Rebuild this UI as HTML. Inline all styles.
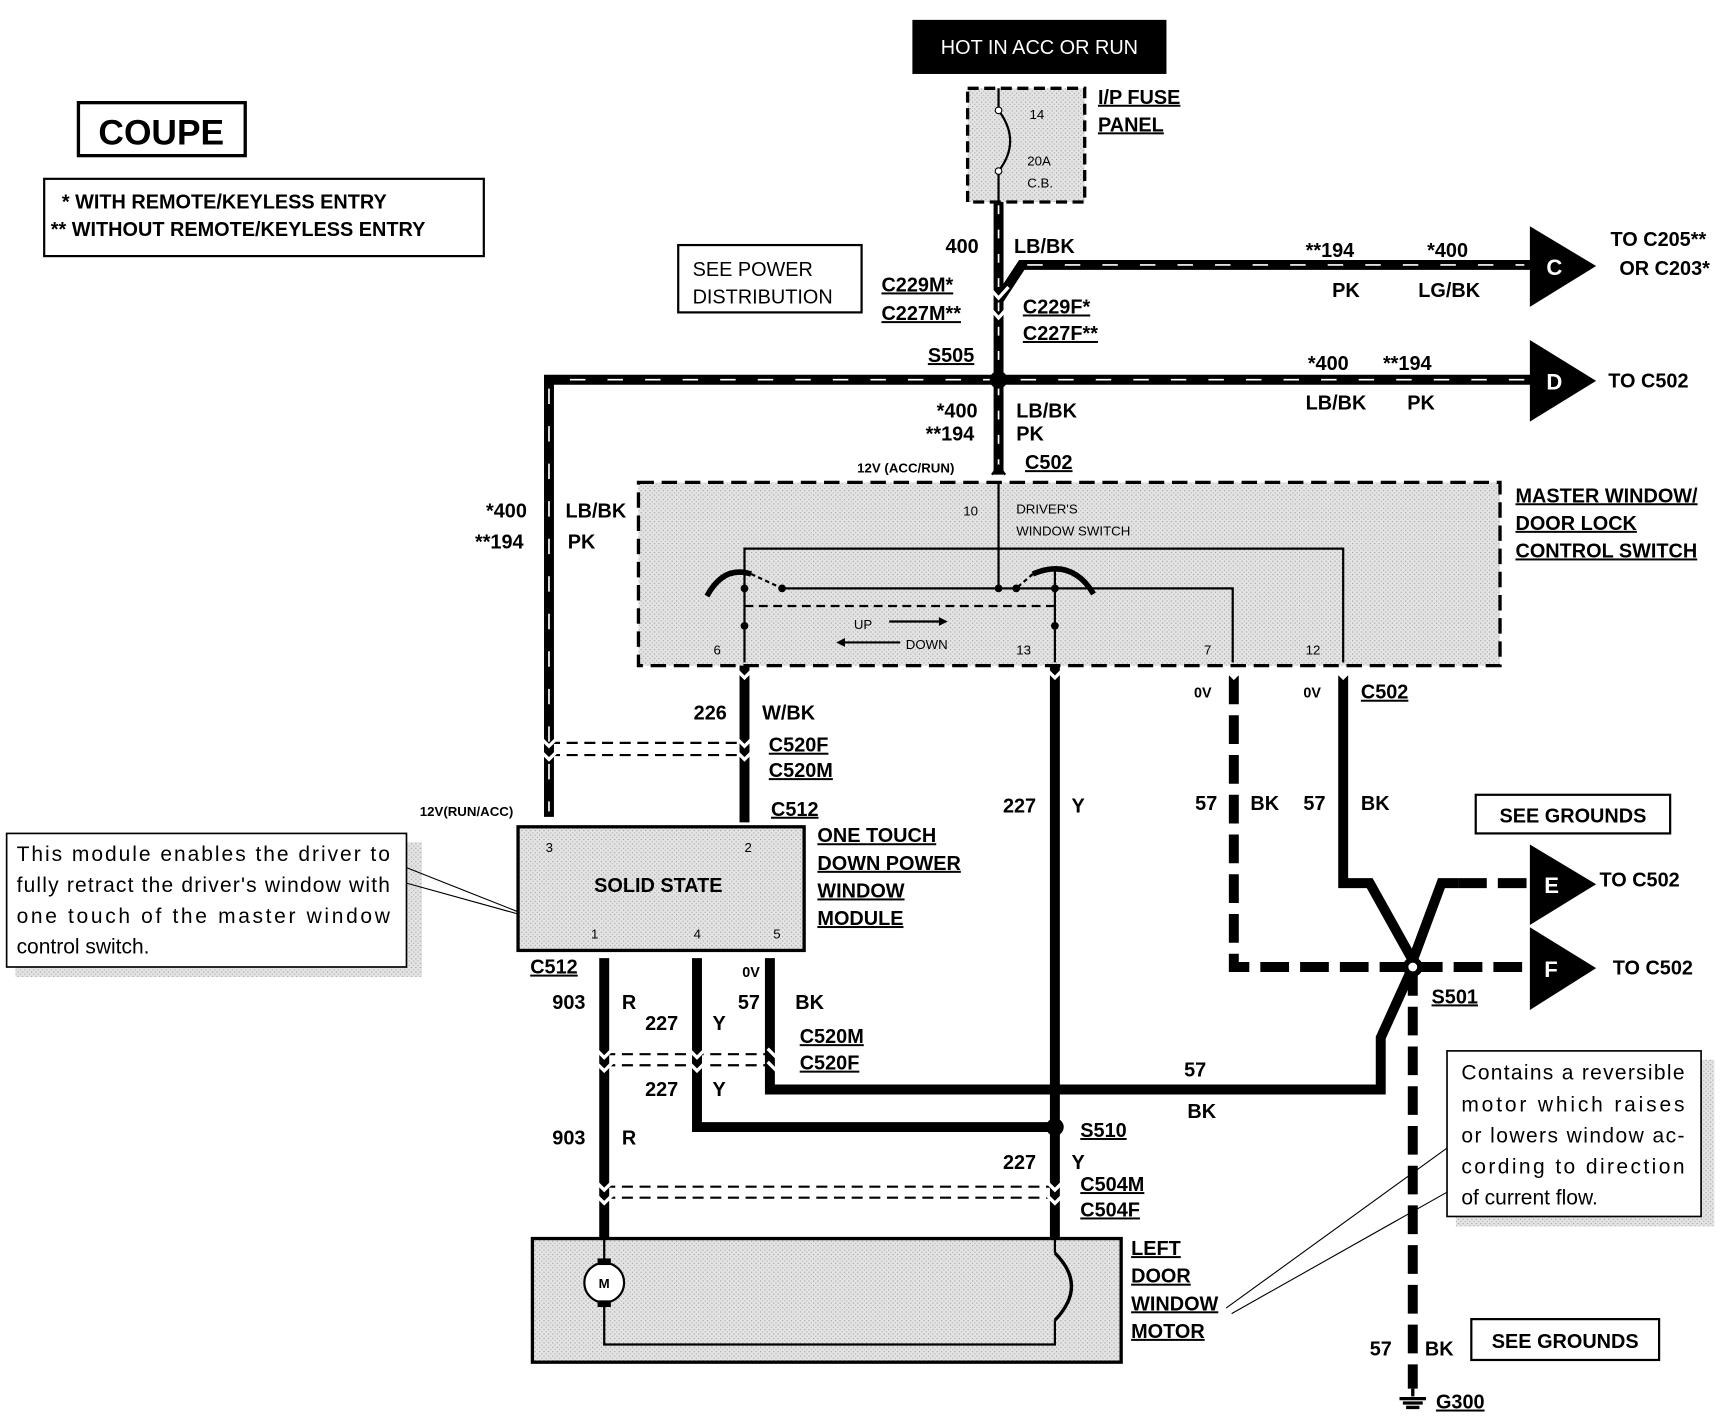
<!DOCTYPE html>
<html><head><meta charset="utf-8"><style>
html,body{margin:0;padding:0;background:#fff}
svg{display:block}
text{font-family:"Liberation Sans",sans-serif;font-weight:bold;fill:#000}
.u{text-decoration:underline}
</style></head><body>
<svg width="1732" height="1424" viewBox="0 0 1568 1290" preserveAspectRatio="none" xmlns="http://www.w3.org/2000/svg">
<defs>
<pattern id="st" width="4" height="4" patternUnits="userSpaceOnUse"><rect width="4" height="4" fill="#e4e4e4"/><rect width="1" height="1" fill="#999"/><rect x="2" y="2" width="1" height="1" fill="#aaa"/></pattern>
</defs>
<g font-size="18">
<rect x="826" y="18" width="230" height="49" fill="#000"/>
<text x="941" y="49" text-anchor="middle" fill="#fff" style="fill:#fff;font-weight:normal" font-size="18">HOT IN ACC OR RUN</text>
<rect x="71" y="93" width="151" height="48" fill="none" stroke="#000" stroke-width="3"/>
<text x="146" y="131" text-anchor="middle" font-size="32">COUPE</text>
<rect x="40" y="162" width="398" height="70" fill="none" stroke="#000" stroke-width="2"/>
<text x="56" y="189">*  WITH REMOTE/KEYLESS ENTRY</text>
<text x="46" y="214">**  WITHOUT REMOTE/KEYLESS ENTRY</text>

<rect x="876" y="80" width="106" height="103" fill="url(#st)" stroke="#000" stroke-width="3" stroke-dasharray="10,5"/>
<path d="M904 80 V100 Q925 128 904 155 V183" fill="none" stroke="#000" stroke-width="2"/>
<circle cx="904" cy="100" r="3" fill="#fff" stroke="#000"/><circle cx="904" cy="155" r="3" fill="#fff" stroke="#000"/>
<text x="932" y="108" font-size="12" style="font-weight:normal">14</text>
<text x="930" y="150" font-size="12" style="font-weight:normal">20A</text>
<text x="930" y="170" font-size="12" style="font-weight:normal">C.B.</text>
<text x="994" y="94" class="u">I/P FUSE</text>
<text x="994" y="119" class="u">PANEL</text>

<g stroke="#000" fill="none">
<path d="M904 183 V430" stroke-width="9"/>
<path d="M904 186 V340 M904 350 V425" stroke="#fff" stroke-width="1.5" stroke-dasharray="8,14"/>
<path d="M904 272 L925 240 H1390" stroke-width="9"/>
<path d="M930 240 H1380" stroke="#fff" stroke-width="1.5" stroke-dasharray="14,20"/>
<path d="M1390 344 H497 V740" stroke-width="9"/>
<path d="M1380 344 H505 M497 352 V735" stroke="#fff" stroke-width="1.5" stroke-dasharray="14,20"/>
</g>
<polygon points="1385,205 1385,278 1445,241" fill="#000"/><text x="1400" y="249" font-size="20" style="fill:#fff">C</text>
<polygon points="1385,308 1385,382 1445,345" fill="#000"/><text x="1400" y="353" font-size="20" style="fill:#fff">D</text>
<text x="1458" y="223">TO C205**</text><text x="1466" y="249">OR C203*</text>
<text x="1456" y="351">TO C502</text>
<text x="1182" y="233">**194</text><text x="1292" y="233">*400</text>
<text x="1206" y="269">PK</text><text x="1284" y="269">LG/BK</text>
<text x="856" y="229">400</text><text x="918" y="229">LB/BK</text>
<rect x="614" y="222" width="166" height="61" fill="none" stroke="#000" stroke-width="2"/>
<text x="627" y="250" style="font-weight:normal">SEE POWER</text><text x="627" y="275" style="font-weight:normal">DISTRIBUTION</text>
<text x="798" y="264" class="u">C229M*</text><text x="798" y="290" class="u">C227M**</text>
<text x="926" y="284" class="u">C229F*</text><text x="926" y="308" class="u">C227F**</text>
<path d="M895 260 L904 270 L913 260 M895 278 L904 288 L913 278" stroke="#fff" stroke-width="3" fill="none"/>
<text x="840" y="328" class="u">S505</text>
<circle cx="904" cy="344" r="8" fill="#000"/>
<text x="1184" y="335">*400</text><text x="1252" y="335">**194</text>
<text x="1182" y="371">LB/BK</text><text x="1274" y="371">PK</text>
<text x="440" y="469">*400</text><text x="430" y="497">**194</text>
<text x="512" y="469">LB/BK</text><text x="514" y="497">PK</text>
<text x="848" y="378">*400</text><text x="838" y="399">**194</text>
<text x="920" y="378">LB/BK</text><text x="920" y="399">PK</text>
<text x="776" y="428" font-size="12">12V (ACC/RUN)</text>
<text x="928" y="425" class="u">C502</text>

<rect x="578" y="437" width="780" height="166" fill="url(#st)" stroke="#000" stroke-width="3" stroke-dasharray="14,7"/>
<text x="1372" y="455" class="u">MASTER WINDOW/</text>
<text x="1372" y="480" class="u">DOOR LOCK</text>
<text x="1372" y="505" class="u">CONTROL SWITCH</text>
<text x="872" y="467" font-size="12" style="font-weight:normal">10</text>
<text x="920" y="465" font-size="12" style="font-weight:normal">DRIVER'S</text>
<text x="920" y="485" font-size="12" style="font-weight:normal">WINDOW SWITCH</text>
<g stroke="#000" fill="none" stroke-width="2">
<path d="M904 437 V533 M674 600 V497 H1216 V600 M708 533 H1116 V600 M955 600 V515"/>
<path d="M674 549 H955" stroke-dasharray="8,5"/>
<path d="M640 540 Q655 512 680 520" stroke-width="5"/>
<path d="M935 520 Q970 505 990 538" stroke-width="5"/>
<path d="M680 520 L708 533 M935 520 L920 533" stroke-dasharray="4,3"/>
<path d="M805 563 H850 M815 582 H765"/>
</g>
<path d="M898 430 L904 422 L910 430" stroke="#000" stroke-width="2" fill="none"/>
<polygon points="850,559 858,563 850,567" fill="#000"/><polygon points="765,578 757,582 765,586" fill="#000"/>
<g fill="#000"><circle cx="674" cy="533" r="3.5"/><circle cx="674" cy="567" r="3.5"/><circle cx="708" cy="533" r="3.5"/><circle cx="904" cy="533" r="3.5"/><circle cx="920" cy="533" r="3.5"/><circle cx="955" cy="533" r="3.5"/><circle cx="955" cy="567" r="3.5"/></g>
<text x="773" y="570" font-size="12" style="font-weight:normal">UP</text>
<text x="820" y="588" font-size="12" style="font-weight:normal">DOWN</text>
<text x="646" y="593" font-size="12" style="font-weight:normal">6</text>
<text x="920" y="593" font-size="12" style="font-weight:normal">13</text>
<text x="1090" y="593" font-size="12" style="font-weight:normal">7</text>
<text x="1182" y="593" font-size="12" style="font-weight:normal">12</text>

<g stroke="#000" fill="none" stroke-width="9">
<path d="M674 603 V745"/>
<path d="M955 603 V1122"/>
<path d="M1117 612 V876 H1280" stroke-dasharray="26,10"/>
<path d="M1216 612 V800 H1240 L1279 870"/>
<path d="M1279 870 L1305 800 H1320"/>
<path d="M1320 800 H1385" stroke-dasharray="26,10"/>
<path d="M1280 876 H1385" stroke-dasharray="26,10"/>
<path d="M1279 876 V1258" stroke-dasharray="26,10"/>
<path d="M1279 876 L1250 940 V987 H697 V868"/>
<path d="M547 868 V1122 M631 868 V1021 H955"/>
</g>
<polygon points="1385,765 1385,838 1445,801" fill="#000"/><text x="1398" y="809" font-size="20" style="fill:#fff">E</text>
<polygon points="1385,840 1385,915 1445,877" fill="#000"/><text x="1398" y="885" font-size="20" style="fill:#fff">F</text>
<text x="1448" y="803">TO C502</text><text x="1460" y="883">TO C502</text>
<circle cx="1279" cy="876" r="9" fill="#000"/><circle cx="1279" cy="876" r="4" fill="#fff"/>
<text x="1296" y="909" class="u">S501</text>
<circle cx="955" cy="1021" r="8" fill="#000"/>
<text x="978" y="1030" class="u">S510</text>
<g stroke="#000" stroke-width="2" stroke-dasharray="10,6" fill="none">
<path d="M497 673 H674 M497 684 H674"/>
<path d="M547 955 H703 M547 965 H703"/>
<path d="M547 1075 H955 M547 1085 H955"/>
</g>
<g stroke="#fff" stroke-width="3" fill="none">
<path d="M489 668 L497 676 L505 668 M489 680 L497 688 L505 680 M666 668 L674 676 L682 668 M666 680 L674 688 L682 680"/>
<path d="M539 950 L547 958 L555 950 M623 950 L631 958 L639 950 M695 950 L703 958 L711 950 M539 962 L547 970 L555 962 M623 962 L631 970 L639 962 M695 962 L703 970 L711 962"/>
<path d="M539 1070 L547 1078 L555 1070 M947 1070 L955 1078 L963 1070 M539 1082 L547 1090 L555 1082 M947 1082 L955 1090 L963 1082"/>
<path d="M666 606 L674 614 L682 606 M947 606 L955 614 L963 606 M1109 606 L1117 614 L1125 606 M1208 606 L1216 614 L1224 606"/>
</g>
<text x="628" y="652">226</text><text x="690" y="652">W/BK</text>
<text x="696" y="681" class="u">C520F</text><text x="696" y="704" class="u">C520M</text>
<text x="698" y="739" class="u">C512</text>
<text x="380" y="739" font-size="12">12V(RUN/ACC)</text>
<text x="1081" y="632" font-size="13">0V</text><text x="1180" y="632" font-size="13">0V</text>
<text x="1232" y="633" class="u">C502</text>
<text x="908" y="736">227</text><text x="970" y="736">Y</text>
<text x="1082" y="734">57</text><text x="1132" y="734">BK</text>
<text x="1180" y="734">57</text><text x="1232" y="734">BK</text>
<rect x="1336" y="720" width="176" height="35" fill="none" stroke="#000" stroke-width="2"/>
<text x="1424" y="745" text-anchor="middle">SEE GROUNDS</text>

<rect x="469" y="749" width="259" height="112" fill="url(#st)" stroke="#000" stroke-width="3"/>
<text x="494" y="772" font-size="12" style="font-weight:normal">3</text><text x="674" y="772" font-size="12" style="font-weight:normal">2</text>
<text x="596" y="808" text-anchor="middle">SOLID STATE</text>
<text x="535" y="850" font-size="12" style="font-weight:normal">1</text><text x="628" y="850" font-size="12" style="font-weight:normal">4</text><text x="700" y="850" font-size="12" style="font-weight:normal">5</text>
<text x="740" y="763" class="u">ONE TOUCH</text><text x="740" y="788" class="u">DOWN POWER</text>
<text x="740" y="813" class="u">WINDOW</text><text x="740" y="838" class="u">MODULE</text>
<rect x="14" y="763" width="368" height="122" fill="url(#st)"/>
<rect x="6" y="755" width="362" height="121" fill="#fff" stroke="#000" stroke-width="1.5"/>
<path d="M368 786 L469 826 M368 800 L469 828" stroke="#000" stroke-width="1"/>
<g font-size="19">
<text x="15" y="780" style="font-weight:normal" textLength="338">This module enables the driver to</text>
<text x="15" y="808" style="font-weight:normal" textLength="338">fully retract the driver's window with</text>
<text x="15" y="836" style="font-weight:normal" textLength="338">one touch of the master window</text>
<text x="15" y="864" style="font-weight:normal">control switch.</text>
</g>
<text x="480" y="882" class="u">C512</text><text x="672" y="885" font-size="13">0V</text>
<text x="500" y="914">903</text><text x="563" y="914">R</text>
<text x="584" y="933">227</text><text x="645" y="933">Y</text>
<text x="668" y="914">57</text><text x="720" y="914">BK</text>
<text x="724" y="945" class="u">C520M</text><text x="724" y="969" class="u">C520F</text>
<text x="584" y="993">227</text><text x="645" y="993">Y</text>
<text x="1072" y="975">57</text><text x="1075" y="1013">BK</text>
<text x="500" y="1037">903</text><text x="563" y="1037">R</text>
<text x="908" y="1059">227</text><text x="970" y="1059">Y</text>
<text x="978" y="1079" class="u">C504M</text><text x="978" y="1102" class="u">C504F</text>

<rect x="482" y="1122" width="533" height="112" fill="url(#st)" stroke="#000" stroke-width="3"/>
<g stroke="#000" stroke-width="2" fill="none">
<path d="M547 1122 V1144 M547 1180 V1218 H955 V1196 M955 1122 V1135"/>
<path d="M955 1135 Q985 1165 955 1196" stroke-width="3"/>
<circle cx="547" cy="1162" r="18" fill="#fff"/>
</g>
<rect x="541" y="1140" width="12" height="6" fill="#000"/><rect x="541" y="1178" width="12" height="6" fill="#000"/>
<text x="547" y="1167" text-anchor="middle" font-size="12">M</text>
<text x="1024" y="1137" class="u">LEFT</text><text x="1024" y="1162" class="u">DOOR</text>
<text x="1024" y="1187" class="u">WINDOW</text><text x="1024" y="1212" class="u">MOTOR</text>
<rect x="1318" y="960" width="234" height="151" fill="url(#st)"/>
<rect x="1310" y="952" width="230" height="150" fill="#fff" stroke="#000" stroke-width="1.5"/>
<path d="M1310 1040 L1110 1185 M1310 1080 L1115 1190" stroke="#000" stroke-width="1"/>
<g font-size="19">
<text x="1323" y="978" style="font-weight:normal" textLength="202">Contains a reversible</text>
<text x="1323" y="1007" style="font-weight:normal" textLength="202">motor which raises</text>
<text x="1323" y="1035" style="font-weight:normal" textLength="202">or lowers window ac-</text>
<text x="1323" y="1063" style="font-weight:normal" textLength="202">cording to direction</text>
<text x="1323" y="1091" style="font-weight:normal">of current flow.</text>
</g>
<text x="1240" y="1228">57</text><text x="1290" y="1228">BK</text>
<rect x="1332" y="1195" width="170" height="37" fill="none" stroke="#000" stroke-width="2"/>
<text x="1417" y="1221" text-anchor="middle">SEE GROUNDS</text>
<path d="M1279 1258 V1265 M1267 1267 H1291 M1270 1271 H1288 M1273 1275 H1285" stroke="#000" stroke-width="3"/>
<text x="1300" y="1276" class="u">G300</text>
</g>
</svg>
</body></html>
